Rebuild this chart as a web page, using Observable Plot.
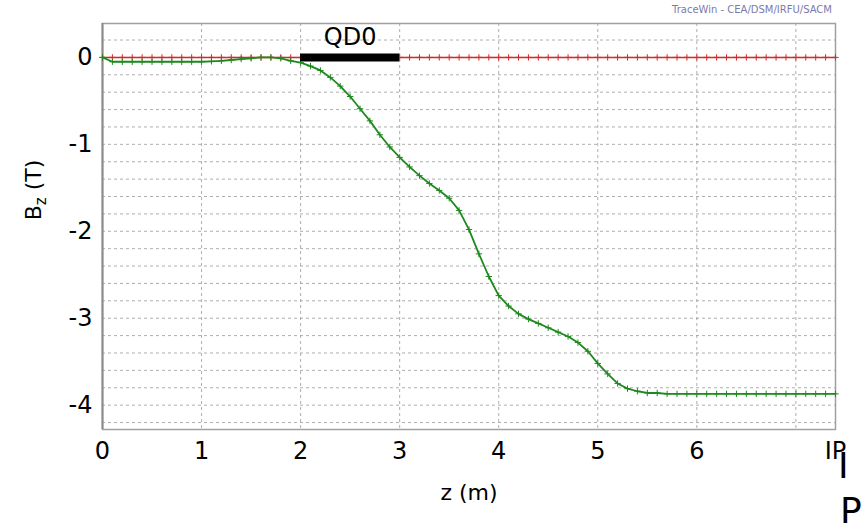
<!DOCTYPE html>
<html>
<head>
<meta charset="utf-8">
<script src="https://cdn.jsdelivr.net/npm/d3@7"></script>
<script src="https://cdn.jsdelivr.net/npm/@observablehq/plot@0.6"></script>
<style>
  body { margin: 0; background: #fff; font-family: "DejaVu Sans", sans-serif; }
  #chart { position: relative; width: 861px; height: 532px; overflow: hidden; }
  .credit { position: absolute; left: 672px; top: 4px; font-size: 10px; color: #7b7bab; white-space: nowrap; }
  .tag { position: absolute; font-size: 36px; line-height: 36px; color: #000; }
</style>
</head>
<body>
<div id="chart">
  <div class="credit">TraceWin - CEA/DSM/IRFU/SACM</div>
  <div class="tag" style="left:838px;top:448px">I</div>
  <div class="tag" style="left:840px;top:493px">P</div>
</div>
<script>
// Longitudinal position along the beam line (m), sampled every 0.1 m up to the IP
const zPos = [
  0.0, 0.1, 0.2, 0.3, 0.4, 0.5, 0.6, 0.7, 0.8, 0.9,
  1.0, 1.1, 1.2, 1.3, 1.4, 1.5, 1.6, 1.7, 1.8, 1.9,
  2.0, 2.1, 2.2, 2.3, 2.4, 2.5, 2.6, 2.7, 2.8, 2.9,
  3.0, 3.1, 3.2, 3.3, 3.4, 3.5, 3.6, 3.7, 3.8, 3.9,
  4.0, 4.1, 4.2, 4.3, 4.4, 4.5, 4.6, 4.7, 4.8, 4.9,
  5.0, 5.1, 5.2, 5.3, 5.4, 5.5, 5.6, 5.7, 5.8, 5.9,
  6.0, 6.1, 6.2, 6.3, 6.4, 6.5, 6.6, 6.7, 6.8, 6.9,
  7.0, 7.1, 7.2, 7.3, 7.4
];

// Solenoid field Bz (T) along z
const bzSolenoid = [
  0.00, -0.05, -0.05, -0.05, -0.05, -0.05, -0.05, -0.05, -0.05, -0.05,
  -0.05, -0.045, -0.04, -0.03, -0.02, -0.01, 0.00, 0.00, -0.01, -0.04,
  -0.06, -0.10, -0.15, -0.23, -0.33, -0.45, -0.59, -0.73, -0.89, -1.03,
  -1.15, -1.26, -1.36, -1.45, -1.53, -1.62, -1.76, -1.98, -2.26, -2.52,
  -2.74, -2.86, -2.95, -3.01, -3.06, -3.11, -3.16, -3.21, -3.28, -3.38,
  -3.52, -3.64, -3.75, -3.81, -3.84, -3.86, -3.86, -3.87, -3.87, -3.87,
  -3.87, -3.87, -3.87, -3.87, -3.87, -3.87, -3.87, -3.87, -3.87, -3.87,
  -3.87, -3.87, -3.87, -3.87, -3.87
];

// Compensated (reference) field Bz (T) along z
const bzReference = [
  0, 0, 0, 0, 0, 0, 0, 0, 0, 0,
  0, 0, 0, 0, 0, 0, 0, 0, 0, 0,
  0, 0, 0, 0, 0, 0, 0, 0, 0, 0,
  0, 0, 0, 0, 0, 0, 0, 0, 0, 0,
  0, 0, 0, 0, 0, 0, 0, 0, 0, 0,
  0, 0, 0, 0, 0, 0, 0, 0, 0, 0,
  0, 0, 0, 0, 0, 0, 0, 0, 0, 0,
  0, 0, 0, 0, 0
];

// Final-focus quadrupole placement
const magnetNames = ["QD0"];
const magnetStart = [2.0];
const magnetEnd = [3.0];
const magnetField = [0];

// Axis ticks and labels
const xTickValues = [0, 1, 2, 3, 4, 5, 6, 7.4];
const xTickLabels = ["0", "1", "2", "3", "4", "5", "6", "IP"];
const yTickValues = [0, -1, -2, -3, -4];
const xGridValues = [0, 1, 2, 3, 4, 5, 6, 7];
const yGridValues = [0.2, 0, -0.2, -0.4, -0.6, -0.8, -1, -1.2, -1.4, -1.6, -1.8, -2, -2.2,
                     -2.4, -2.6, -2.8, -3, -3.2, -3.4, -3.6, -3.8, -4, -4.2];

const solenoid = zPos.map((z, i) => ({z, bz: bzSolenoid[i]}));
const reference = zPos.map((z, i) => ({z, bz: bzReference[i]}));
const magnets = magnetNames.map((name, i) => ({name, start: magnetStart[i], end: magnetEnd[i], field: magnetField[i]}));

const xLabelOf = new Map(xTickValues.map((v, i) => [v, xTickLabels[i]]));

const red = "#d22b2b";
const green = "#1e8a1e";

const plot = Plot.plot({
  width: 861,
  height: 532,
  marginTop: 23,
  marginRight: 26,
  marginBottom: 103,
  marginLeft: 102,
  style: {fontFamily: "DejaVu Sans, sans-serif", fontSize: "24px", background: "#fff", color: "#000", overflow: "visible"},
  x: {domain: [0, 7.4], ticks: xTickValues, tickFormat: d => xLabelOf.get(d), tickSize: 0, tickPadding: 12, label: null},
  y: {domain: [-4.28, 0.39], ticks: yTickValues, tickFormat: d => String(d), tickSize: 0, tickPadding: 10, label: null},
  marks: [
    Plot.gridY(yGridValues, {stroke: "#9a9a9a", strokeOpacity: 0.8, strokeDasharray: "3,3"}),
    Plot.gridX(xGridValues, {stroke: "#9a9a9a", strokeOpacity: 0.8, strokeDasharray: "3,3"}),
    Plot.frame({stroke: "#a0a0a0", strokeWidth: 1.5}),
    Plot.ruleX([0], {stroke: "#8a8a8a", strokeWidth: 2}),
    Plot.line(reference, {x: "z", y: "bz", stroke: red, strokeWidth: 1.5}),
    Plot.dot(reference, {x: "z", y: "bz", symbol: "plus", r: 2.2, stroke: red, strokeWidth: 1}),
    Plot.line(solenoid, {x: "z", y: "bz", stroke: green, strokeWidth: 1.8}),
    Plot.dot(solenoid, {x: "z", y: "bz", symbol: "plus", r: 2.2, stroke: green, strokeWidth: 1}),
    Plot.ruleY(magnets, {x1: "start", x2: "end", y: "field", stroke: "#000", strokeWidth: 8}),
    Plot.text(magnets, {x: d => (d.start + d.end) / 2, y: "field", text: "name", dy: -20, fontSize: 24, fill: "#000"}),
    Plot.text(["z (m)"], {frameAnchor: "bottom", dy: 70, fontSize: 22, fill: "#000"})
  ]
});

// Rotated y-axis title with subscript
const svg = d3.select(plot);
const yTitle = svg.append("text")
  .attr("transform", "translate(41,190) rotate(-90)")
  .attr("text-anchor", "middle")
  .attr("font-family", "DejaVu Sans, sans-serif")
  .attr("font-size", 22)
  .attr("fill", "#000");
yTitle.append("tspan").text("B");
yTitle.append("tspan").attr("dy", 5).attr("font-size", 15).text("z");
yTitle.append("tspan").attr("dy", -5).text(" (T)");

document.getElementById("chart").prepend(plot);
plot.style.position = "absolute";
plot.style.left = "0";
plot.style.top = "0";
</script>
</body>
</html>
